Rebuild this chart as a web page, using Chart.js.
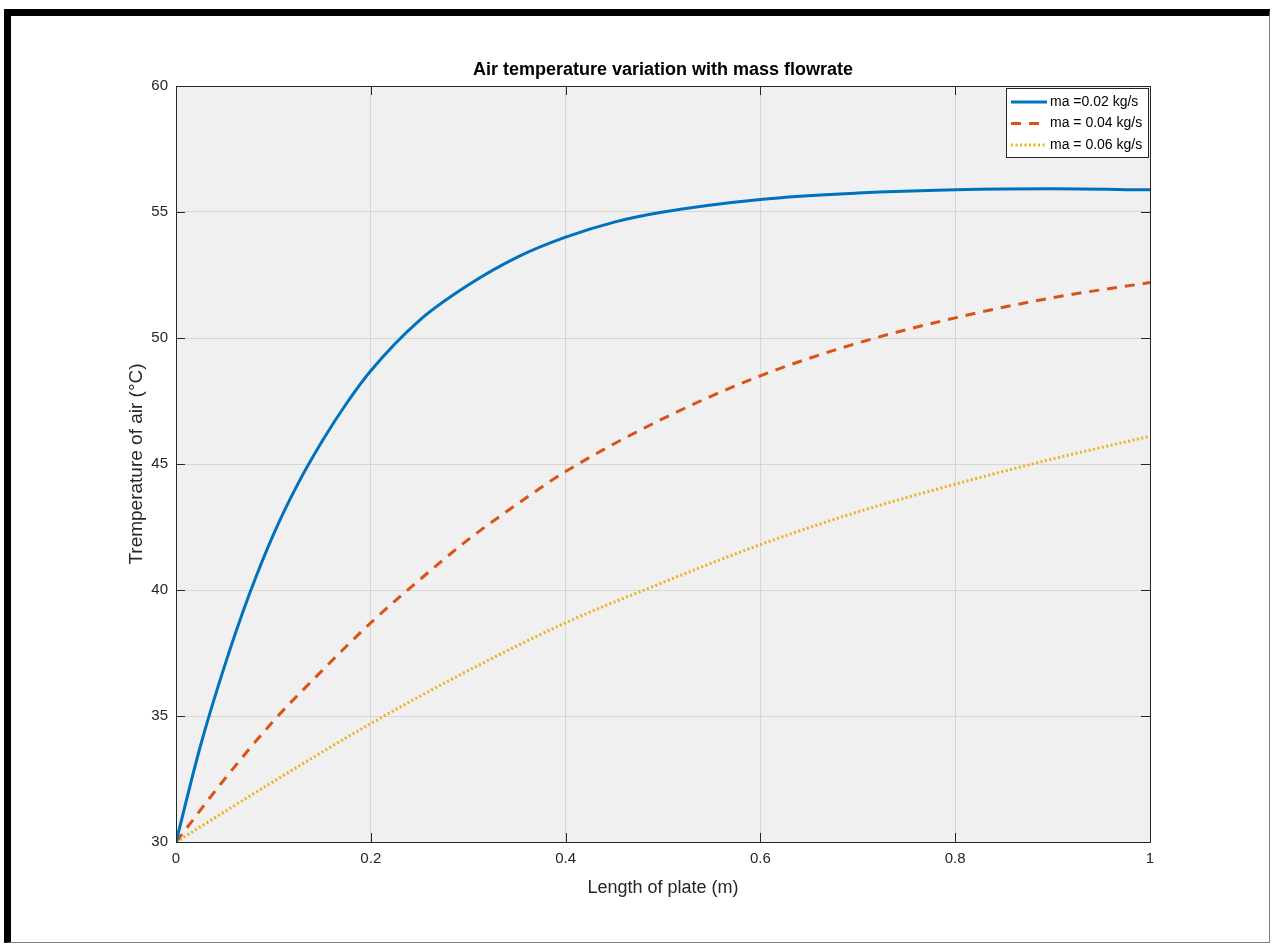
<!DOCTYPE html>
<html>
<head>
<meta charset="utf-8">
<script src="https://cdn.jsdelivr.net/npm/chart.js@4"></script>
<style>
  html, body { margin: 0; padding: 0; background: #fff; }
  #frame {
    position: absolute; left: 4px; top: 9px;
    width: 1258px; height: 926px;
    border-top: 7px solid #000; border-left: 7px solid #000;
    border-right: 1px solid #808080; border-bottom: 1px solid #808080;
  }
  #temperatureChart { position: absolute; left: 0; top: 0; }
</style>
</head>
<body>
<div id="frame"></div>
<canvas id="temperatureChart" width="1274" height="944"></canvas>
<script>
// Values
// Length of plate (m) and air temperature (°C) for each mass flowrate
var lengthA = [0, 0.025, 0.05, 0.075, 0.1, 0.125, 0.15, 0.175, 0.2, 0.25, 0.3, 0.35, 0.4, 0.45, 0.5, 0.6, 0.7, 0.8, 0.9, 1];
var tempA   = [30, 33.8, 37.0, 39.8, 42.2, 44.2, 45.9, 47.4, 48.7, 50.7, 52.1, 53.2, 54.0, 54.6, 55.0, 55.5, 55.75, 55.88, 55.92, 55.88];

var lengthB = [0, 0.05, 0.1, 0.15, 0.2, 0.25, 0.3, 0.35, 0.4, 0.5, 0.6, 0.7, 0.8, 0.9, 1];
var tempB   = [30, 32.5, 34.8, 36.8, 38.7, 40.4, 42.0, 43.4, 44.7, 46.8, 48.5, 49.8, 50.8, 51.6, 52.2];

var lengthC = [0, 0.1, 0.2, 0.3, 0.4, 0.5, 0.6, 0.7, 0.8, 0.9, 1];
var tempC   = [30, 32.4, 34.7, 36.8, 38.7, 40.3, 41.8, 43.1, 44.2, 45.2, 46.1];

var seriesLabels = ["ma =0.02 kg/s", "ma = 0.04 kg/s", "ma = 0.06 kg/s"];
var chartTitle = "Air temperature variation with mass flowrate";

var xTicks = [0, 0.2, 0.4, 0.6, 0.8, 1];
var yTicks = [30, 35, 40, 45, 50, 55, 60];

var FONT = "'Liberation Sans', Arial, Helvetica, sans-serif";
var TEXT = "#262626";

function toPoints(xs, ys) {
    return xs.map(function(x, i) { return { x: x, y: ys[i] }; });
}

// plot background (MATLAB grey)
var plotBackground = {
    id: "plotBackground",
    beforeDraw: function(chart) {
        var a = chart.chartArea, c = chart.ctx;
        c.save();
        c.fillStyle = "#f0f0f0";
        c.fillRect(a.left, a.top, a.right - a.left, a.bottom - a.top);
        c.restore();
    }
};

// title centred over the axes, not over the whole canvas
var axesTitle = {
    id: "axesTitle",
    afterDraw: function(chart) {
        var a = chart.chartArea, c = chart.ctx;
        c.save();
        c.font = "bold 18px " + FONT;
        c.fillStyle = "#000";
        c.textAlign = "center";
        c.textBaseline = "middle";
        c.fillText(chartTitle, (a.left + a.right) / 2, a.top - 16);
        c.restore();
    }
};

// box around the axes and inward tick marks on all four sides
var axesBox = {
    id: "axesBox",
    afterDatasetsDraw: function(chart) {
        var a = chart.chartArea, c = chart.ctx;
        var xs = chart.scales.x, ys = chart.scales.y;
        var len = 9;
        c.save();
        c.strokeStyle = TEXT;
        c.lineWidth = 1;
        c.beginPath();
        xTicks.forEach(function(v) {
            var px = Math.round(xs.getPixelForValue(v)) + 0.5;
            c.moveTo(px, a.bottom); c.lineTo(px, a.bottom - len);
            c.moveTo(px, a.top); c.lineTo(px, a.top + len);
        });
        yTicks.forEach(function(v) {
            var py = Math.round(ys.getPixelForValue(v)) + 0.5;
            c.moveTo(a.left, py); c.lineTo(a.left + len, py);
            c.moveTo(a.right, py); c.lineTo(a.right - len, py);
        });
        c.stroke();
        c.strokeRect(Math.round(a.left) + 0.5, Math.round(a.top) + 0.5,
                     Math.round(a.right - a.left), Math.round(a.bottom - a.top));
        c.restore();
    }
};

// legend box in the top right corner, drawn from the datasets
var boxLegend = {
    id: "boxLegend",
    afterDraw: function(chart) {
        var a = chart.chartArea, c = chart.ctx;
        var w = 142, h = 69;
        var left = a.right - 2 - w, top = a.top + 2;
        c.save();
        c.fillStyle = "#ffffff";
        c.fillRect(left, top, w, h);
        c.strokeStyle = TEXT;
        c.lineWidth = 1;
        c.strokeRect(left + 0.5, top + 0.5, w, h);
        c.font = "14px " + FONT;
        c.textBaseline = "middle";
        c.fillStyle = "#000";
        chart.data.datasets.forEach(function(ds, i) {
            var y = top + 14 + i * 21.5;
            c.save();
            c.strokeStyle = ds.borderColor;
            c.lineWidth = ds.borderWidth;
            c.setLineDash(ds.borderDash || []);
            c.beginPath();
            c.moveTo(left + 5, y);
            c.lineTo(left + 41, y);
            c.stroke();
            c.restore();
            c.fillText(ds.label, left + 44, y);
        });
        c.restore();
    }
};

var ctx = document.getElementById("temperatureChart").getContext("2d");

var temperatureChart = new Chart(ctx, {
    type: "line",
    data: {
        datasets: [
            {
                label: seriesLabels[0],
                data: toPoints(lengthA, tempA),
                borderColor: "#0072BD",
                borderWidth: 3
            },
            {
                label: seriesLabels[1],
                data: toPoints(lengthB, tempB),
                borderColor: "#D95319",
                borderWidth: 3,
                borderDash: [10, 8]
            },
            {
                label: seriesLabels[2],
                data: toPoints(lengthC, tempC),
                borderColor: "#EDB120",
                borderWidth: 3,
                borderDash: [2, 2.5]
            }
        ]
    },
    options: {
        responsive: false,
        animation: false,
        elements: {
            point: { radius: 0 },
            line: { cubicInterpolationMode: "monotone", fill: false }
        },
        layout: { padding: { left: 0, right: 124, top: 86, bottom: 0 } },
        plugins: {
            legend: { display: false },
            tooltip: { enabled: false },
            title: { display: false }
        },
        scales: {
            x: {
                type: "linear",
                min: 0,
                max: 1,
                afterBuildTicks: function(s) { s.ticks = xTicks.map(function(v) { return { value: v }; }); },
                ticks: {
                    color: TEXT,
                    padding: 8,
                    maxRotation: 0,
                    font: { family: FONT, size: 15 },
                    callback: function(v) { return String(v); }
                },
                grid: { color: "#d6d6d6", drawTicks: false },
                border: { color: TEXT },
                title: {
                    display: true,
                    text: "Length of plate (m)",
                    color: TEXT,
                    font: { family: FONT, size: 18 },
                    padding: { top: 0, bottom: 45.2 }
                },
                afterFit: function(s) { s.height = 102; }
            },
            y: {
                min: 30,
                max: 60,
                afterBuildTicks: function(s) { s.ticks = yTicks.map(function(v) { return { value: v }; }); },
                ticks: {
                    color: TEXT,
                    padding: 8,
                    font: { family: FONT, size: 15 }
                },
                grid: { color: "#d6d6d6", drawTicks: false },
                border: { color: TEXT },
                title: {
                    display: true,
                    text: "Tremperature of air (°C)",
                    color: TEXT,
                    font: { family: FONT, size: 19 },
                    padding: { top: 125.6, bottom: 0 }
                },
                afterFit: function(s) { s.width = 176; }
            }
        }
    },
    plugins: [plotBackground, axesBox, boxLegend, axesTitle]
});
</script>
</body>
</html>
